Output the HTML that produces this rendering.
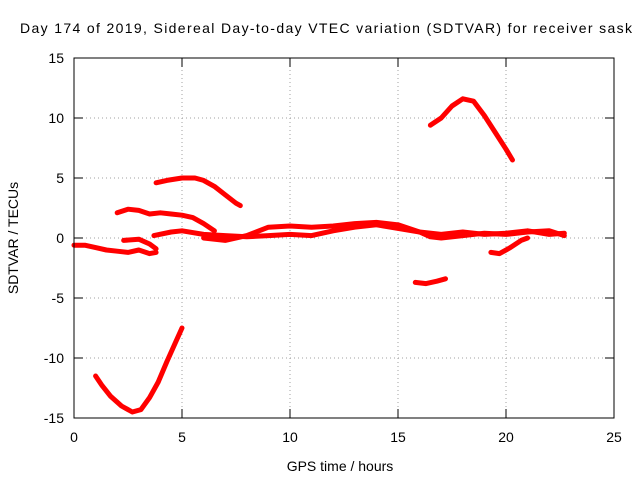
<!DOCTYPE html>
<html><head><meta charset="utf-8"><style>
html,body{margin:0;padding:0;background:#fff;}
svg{display:block;font-family:"Liberation Sans",sans-serif;}
</style></head><body>
<svg id="chart" width="640" height="480" xmlns="http://www.w3.org/2000/svg">
<text x="20" y="33" font-size="14" textLength="612" lengthAdjust="spacing">Day 174 of 2019, Sidereal Day-to-day VTEC variation (SDTVAR) for receiver sask</text>
<text x="340" y="471" font-size="14" text-anchor="middle">GPS time / hours</text>
<text transform="translate(18,238) rotate(-90)" font-size="14" text-anchor="middle">SDTVAR / TECUs</text>
<g id="grid"></g><g id="axes"></g><g id="series"></g>
<rect x="74" y="58" width="540" height="360" fill="none" stroke="#000" stroke-width="1"/>
</svg>
<script>
const xTicks=[0,5,10,15,20,25];
const yTicks=[-15,-10,-5,0,5,10,15];
const s1x=[1.0,1.3,1.7,2.2,2.7,3.1,3.5,3.9,4.3,4.7,5.0];
const s1y=[-11.5,-12.3,-13.2,-14,-14.5,-14.3,-13.3,-12,-10.3,-8.7,-7.5];
const s2x=[3.8,4.3,5.0,5.6,6.0,6.5,7.0,7.5,7.7];
const s2y=[4.6,4.8,5.0,5.0,4.8,4.3,3.6,2.9,2.7];
const s3x=[2.0,2.5,3.0,3.5,4.0,4.5,5.0,5.5,6.0,6.5];
const s3y=[2.1,2.4,2.3,2.0,2.1,2.0,1.9,1.7,1.2,0.6];
const s4x=[0,0.5,1.0,1.5,2.0,2.5,3.0,3.5,3.8];
const s4y=[-0.6,-0.6,-0.8,-1.0,-1.1,-1.2,-1.0,-1.3,-1.2];
const s5x=[2.3,3.0,3.5,3.8];
const s5y=[-0.2,-0.1,-0.5,-0.9];
const s6x=[3.7,4.5,5,6,7,8,9,10,11,12,13,14,15,16,17,18,19,20,21,22,22.7];
const s6y=[0.2,0.5,0.6,0.3,0.2,0.1,0.2,0.3,0.2,0.6,0.9,1.1,0.8,0.5,0.3,0.5,0.3,0.4,0.6,0.3,0.4];
const s7x=[6,7,8,9,10,11,12,13,14,15,16,16.5,17,18,19,20,21,22,22.7];
const s7y=[0,-0.2,0.2,0.9,1.0,0.9,1.0,1.2,1.3,1.1,0.5,0.1,0,0.2,0.4,0.3,0.5,0.6,0.2];
const s8x=[19.3,19.7,20.2,20.7,21];
const s8y=[-1.2,-1.3,-0.8,-0.2,0];
const s9x=[15.8,16.3,16.8,17.2];
const s9y=[-3.7,-3.8,-3.6,-3.4];
const s10x=[16.5,17.0,17.5,18.0,18.5,19.0,19.5,20.0,20.3];
const s10y=[9.4,10.0,11.0,11.6,11.4,10.2,8.8,7.4,6.5];
const seriesX=[s1x,s2x,s3x,s4x,s5x,s6x,s7x,s8x,s9x,s10x];
const seriesY=[s1y,s2y,s3y,s4y,s5y,s6y,s7y,s8y,s9y,s10y];
const NS="http://www.w3.org/2000/svg";
function sx(v){return 74+(v-0)/25*540;}
function sy(v){return 418-(v+15)/30*360;}
const grid=document.getElementById('grid'),axes=document.getElementById('axes'),ser=document.getElementById('series');
function mk(tag,attrs,parent){const e=document.createElementNS(NS,tag);for(const k in attrs)e.setAttribute(k,attrs[k]);parent.appendChild(e);return e;}
xTicks.forEach(t=>{
  const x=sx(t);
  if(t>0&&t<25){const g=mk('line',{x1:x,x2:x,y1:58,y2:418,stroke:'#a0a0a0','stroke-dasharray':'1,3'},grid);
  
  }
  mk('line',{x1:x,x2:x,y1:418,y2:409,stroke:'#000'},axes);
  mk('line',{x1:x,x2:x,y1:58,y2:67,stroke:'#000'},axes);
  const l=mk('text',{x:x,y:442,'font-size':14,'text-anchor':'middle'},axes);
  l.textContent=t;
  
  
});
yTicks.forEach(t=>{
  const y=sy(t);
  if(t>-15&&t<15){const g=mk('line',{x1:74,x2:614,y1:y,y2:y,stroke:'#a0a0a0','stroke-dasharray':'1,3'},grid);
  
  }
  mk('line',{x1:74,x2:83,y1:y,y2:y,stroke:'#000'},axes);
  mk('line',{x1:614,x2:605,y1:y,y2:y,stroke:'#000'},axes);
  const l=mk('text',{x:64,y:y+5,'font-size':14,'text-anchor':'end'},axes);
  l.textContent=t;
  
  
});
seriesX.forEach((xs,i)=>{
  const ys=seriesY[i];
  const pts=xs.map((v,j)=>sx(v)+','+sy(ys[j])).join(' ');
  const p=mk('polyline',{points:pts,fill:'none',stroke:'#ff0000','stroke-width':5,'stroke-linejoin':'round','stroke-linecap':'round'},ser);
  
  
});
</script>
</body></html>
